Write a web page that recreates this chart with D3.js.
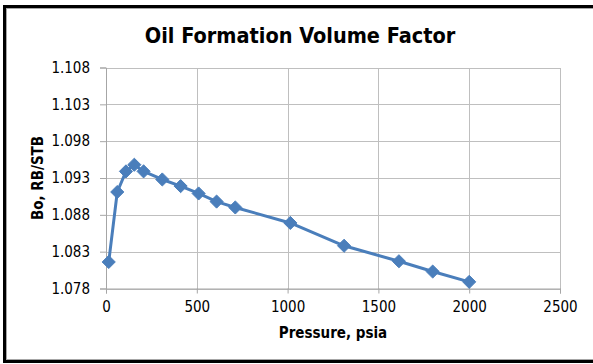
<!DOCTYPE html>
<html>
<head>
<meta charset="utf-8">
<script src="https://cdn.jsdelivr.net/npm/d3@7"></script>
<style>
  html, body { margin: 0; padding: 0; background: #fff; }
  svg { display: block; }
  .tick text { font-family: "DejaVu Sans Condensed", "DejaVu Sans", sans-serif; font-size: 15px; fill: #000; }
</style>
</head>
<body>
<svg id="chart" width="593" height="364"></svg>
<script>
// Pressure (psia) and oil formation volume factor Bo (RB/STB)
const pressure = [15, 62, 110, 156, 207, 310, 411, 510, 609, 712, 1015, 1311, 1613, 1799, 2000];
const bo = [1.0816, 1.0911, 1.0939, 1.0948, 1.0939, 1.0928, 1.0919, 1.0909, 1.0898, 1.0890, 1.0869, 1.0838, 1.0817, 1.0803, 1.0789];
const xTicks = [0, 500, 1000, 1500, 2000, 2500];
const yTicks = [1.078, 1.083, 1.088, 1.093, 1.098, 1.103, 1.108];

const title = "Oil Formation Volume Factor";
const xTitle = "Pressure, psia";
const yTitle = "Bo, RB/STB";

const svg = d3.select("#chart");
const W = 593, H = 364;
const plot = { left: 106, right: 560, top: 67.5, bottom: 288.5 };

// outer frame
svg.append("rect")
  .attr("x", 4.5).attr("y", 6.5)
  .attr("width", W + 10).attr("height", 355)
  .attr("fill", "#fff").attr("stroke", "#000").attr("stroke-width", 3);
svg.append("rect")
  .attr("x", 6.5).attr("y", 8.5)
  .attr("width", W + 10).attr("height", 351)
  .attr("fill", "none").attr("stroke", "#a6a6a6").attr("stroke-width", 1);

const x = d3.scaleLinear().domain([0, 2500]).range([plot.left, plot.right]);
const y = d3.scaleLinear().domain([1.078, 1.108]).range([plot.bottom, plot.top]);

// gridlines
const grid = svg.append("g").attr("stroke", "#bfbfbf").attr("stroke-width", 1).attr("shape-rendering", "crispEdges");
grid.selectAll("line.h").data(yTicks).join("line")
  .attr("x1", plot.left).attr("x2", plot.right)
  .attr("y1", d => Math.round(y(d)) + 0.5).attr("y2", d => Math.round(y(d)) + 0.5);
grid.selectAll("line.v").data(xTicks).join("line")
  .attr("y1", plot.top).attr("y2", plot.bottom)
  .attr("x1", d => Math.round(x(d)) + 0.5).attr("x2", d => Math.round(x(d)) + 0.5);

// axes
const xAxis = d3.axisBottom(x).tickValues(xTicks).tickSize(5).tickPadding(8).tickFormat(d3.format("d"));
const yAxis = d3.axisLeft(y).tickValues(yTicks).tickSize(6).tickPadding(10).tickFormat(d3.format(".3f"));

const gx = svg.append("g").attr("transform", `translate(0,${plot.bottom})`).call(xAxis);
const gy = svg.append("g").attr("transform", `translate(${plot.left},0)`).call(yAxis);
[gx, gy].forEach(g => {
  g.select(".domain").attr("stroke", "#a6a6a6");
  g.selectAll(".tick line").attr("stroke", "#a6a6a6");
});

// series line and diamond markers
const line = d3.line().x((d, i) => x(pressure[i])).y(d => y(d));
svg.append("path")
  .datum(bo)
  .attr("d", line)
  .attr("fill", "none")
  .attr("stroke", "#4a7ebb")
  .attr("stroke-width", 3)
  .attr("stroke-linejoin", "round");

const diamond = d3.symbol().type(d3.symbolDiamond2).size(110);
svg.selectAll("path.marker").data(bo).join("path")
  .attr("class", "marker")
  .attr("transform", (d, i) => `translate(${x(pressure[i])},${y(d)})`)
  .attr("d", diamond)
  .attr("fill", "#4a7ebb")
  .attr("stroke", "#4a7ebb")
  .attr("stroke-width", 1);

// titles
svg.append("text")
  .attr("x", 300).attr("y", 43)
  .attr("text-anchor", "middle")
  .attr("font-family", "'DejaVu Sans Condensed', 'DejaVu Sans', sans-serif")
  .attr("font-weight", "bold")
  .attr("font-size", 21.5)
  .text(title);

svg.append("text")
  .attr("x", 333).attr("y", 338)
  .attr("text-anchor", "middle")
  .attr("font-family", "'DejaVu Sans Condensed', 'DejaVu Sans', sans-serif")
  .attr("font-weight", "bold")
  .attr("font-size", 15)
  .text(xTitle);

svg.append("text")
  .attr("transform", `translate(43,${(plot.top + plot.bottom) / 2}) rotate(-90)`)
  .attr("text-anchor", "middle")
  .attr("font-family", "'DejaVu Sans Condensed', 'DejaVu Sans', sans-serif")
  .attr("font-weight", "bold")
  .attr("font-size", 15)
  .text(yTitle);
</script>
</body>
</html>
